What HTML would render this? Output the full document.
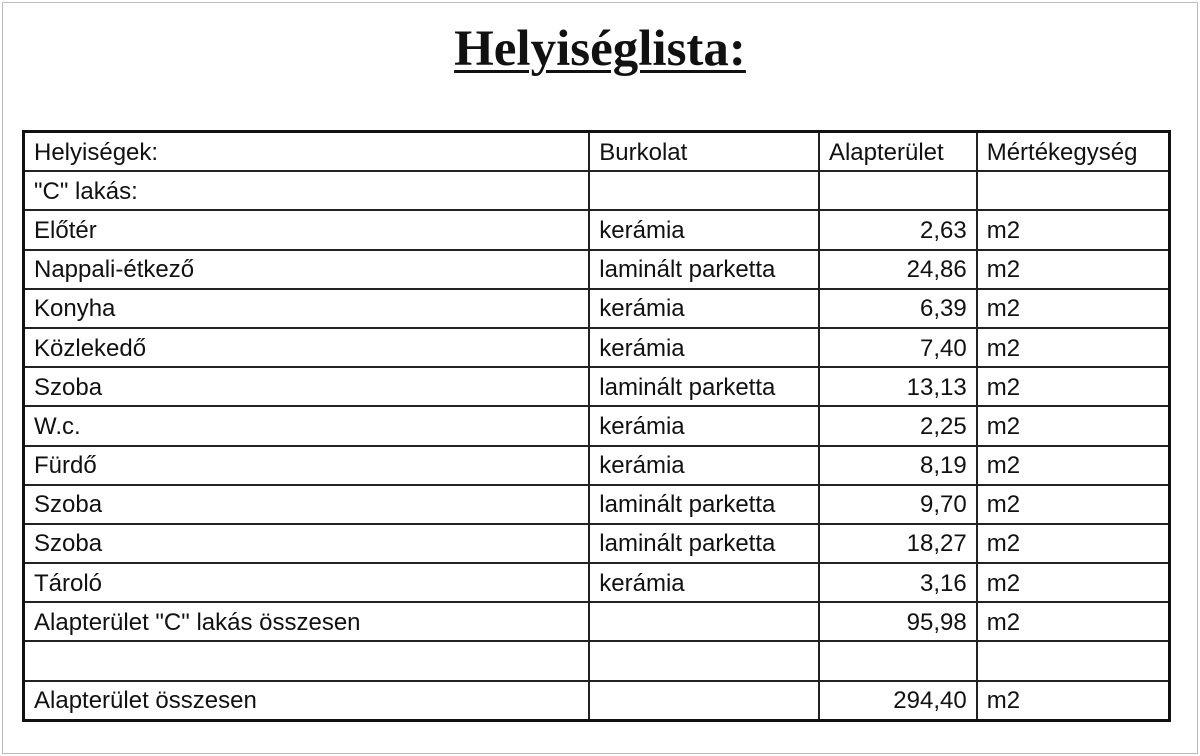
<!DOCTYPE html>
<html><head><meta charset="utf-8"><style>
html,body{margin:0;padding:0;background:#fff;}
#wrap{position:relative;width:1200px;height:756px;overflow:hidden;background:#fff;}
#frame{position:absolute;left:2px;top:2px;width:1194px;height:750px;border:1px solid #bbb;}
h1{position:absolute;left:0;width:1200px;top:20px;margin:0;text-align:center;font-family:"Liberation Serif",serif;font-weight:bold;font-size:51px;text-decoration:underline;text-decoration-thickness:3px;text-underline-offset:5px;color:#111;}
table{position:absolute;left:22px;top:130px;width:1149px;border-collapse:collapse;border:3px solid #111;font-family:"Liberation Sans",sans-serif;font-size:24px;color:#111;}
td{border:2px solid #222;height:35.2px;padding:2px 9px 0 9px;white-space:nowrap;line-height:24px;}
td.r{text-align:right;padding-right:9px;}
col.a{width:568px}col.b{width:230px}col.c{width:158px}col.d{width:193px}
</style></head><body><div id="wrap"><div id="frame"></div>
<h1>Helyiséglista:</h1>
<table><colgroup><col class="a"><col class="b"><col class="c"><col class="d"></colgroup>
<tr><td>Helyiségek:</td><td>Burkolat</td><td>Alapterület</td><td>Mértékegység</td></tr>
<tr><td>"C" lakás:</td><td></td><td></td><td></td></tr>
<tr><td>Előtér</td><td>kerámia</td><td class="r">2,63</td><td>m2</td></tr>
<tr><td>Nappali-étkező</td><td>laminált parketta</td><td class="r">24,86</td><td>m2</td></tr>
<tr><td>Konyha</td><td>kerámia</td><td class="r">6,39</td><td>m2</td></tr>
<tr><td>Közlekedő</td><td>kerámia</td><td class="r">7,40</td><td>m2</td></tr>
<tr><td>Szoba</td><td>laminált parketta</td><td class="r">13,13</td><td>m2</td></tr>
<tr><td>W.c.</td><td>kerámia</td><td class="r">2,25</td><td>m2</td></tr>
<tr><td>Fürdő</td><td>kerámia</td><td class="r">8,19</td><td>m2</td></tr>
<tr><td>Szoba</td><td>laminált parketta</td><td class="r">9,70</td><td>m2</td></tr>
<tr><td>Szoba</td><td>laminált parketta</td><td class="r">18,27</td><td>m2</td></tr>
<tr><td>Tároló</td><td>kerámia</td><td class="r">3,16</td><td>m2</td></tr>
<tr><td>Alapterület "C" lakás összesen</td><td></td><td class="r">95,98</td><td>m2</td></tr>
<tr><td></td><td></td><td></td><td></td></tr>
<tr><td>Alapterület összesen</td><td></td><td class="r">294,40</td><td>m2</td></tr>
</table></div></body></html>
